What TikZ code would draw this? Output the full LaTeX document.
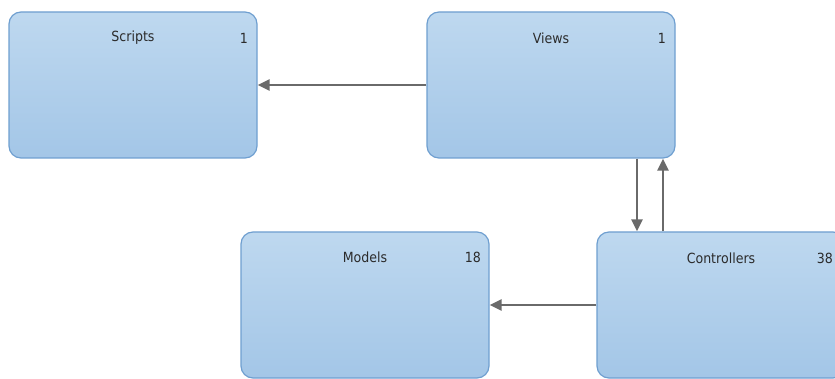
\documentclass[tikz,border=0pt]{standalone}
\usepackage{fontspec}
\setmainfont{DejaVu Sans Condensed}
\usetikzlibrary{arrows.meta,positioning}
\definecolor{boxtop}{HTML}{BED8EF}
\definecolor{boxbot}{HTML}{A3C6E7}
\definecolor{boxline}{HTML}{6F9FD0}
\definecolor{linkgray}{HTML}{6A6A6A}
\definecolor{txt}{HTML}{2B2B2B}
\tikzset{
  pkg/.style={rectangle, rounded corners=12pt, draw=boxline, line width=1.2pt,
    top color=boxtop, bottom color=boxbot,
    minimum width=248pt, minimum height=146pt, inner sep=0pt},
  title/.style={font=\fontsize{14}{16}\selectfont, text=txt, inner sep=0pt},
  count/.style={font=\fontsize{14}{16}\selectfont, text=txt, inner sep=0pt, anchor=east},
  link/.style={draw=linkgray, line width=2.4pt,
    -{Triangle[length=12pt,width=11pt]}}
}
\begin{document}
\begin{tikzpicture}[x=1pt,y=-1pt]
\useasboundingbox (0,0) rectangle (835,379);
\clip (0,0) rectangle (835,379);
% package boxes
\node[pkg] (scripts) at (133,85) {};
\node[pkg] (views)   at (551,85) {};
\node[pkg] (models)  at (365,305) {};
\node[pkg] (ctrl)    at (721,305) {};
% titles and counts
\node[title] (tscripts) at (133,38) {Scripts};
\node[count] (cscripts) at (248,38) {1};
\node[title] (tviews) at (551,38) {Views};
\node[count] (cviews) at (666,38) {1};
\node[title] (tmodels) at (365,257) {Models};
\node[count] (cmodels) at (481,257) {18};
\node[title] (tctrl) at (721,258) {Controllers};
\node[count] (cctrl) at (833,258) {38};
% dependencies
\coordinate (down) at (637,195);
\coordinate (up) at (663,195);
\draw[link] (views.west) -- (scripts.east);
\draw[link] (ctrl.west) -- (models.east);
\draw[link] (views.south -| down) -- (ctrl.north -| down);
\draw[link] (ctrl.north -| up) -- (views.south -| up);
\end{tikzpicture}
\end{document}
